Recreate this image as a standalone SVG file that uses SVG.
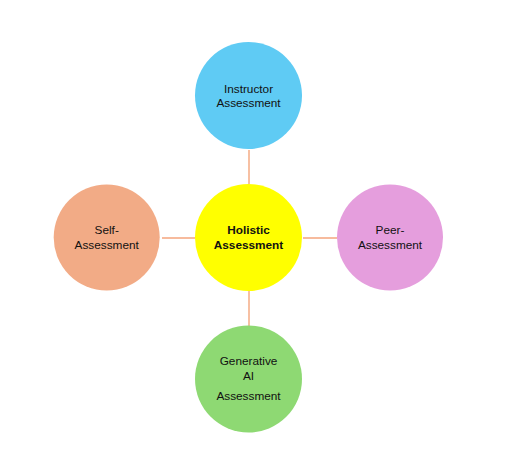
<svg xmlns="http://www.w3.org/2000/svg" width="520" height="454" viewBox="0 0 520 454">
<style>
.c{stroke:none}
.t{font-family:"Liberation Sans",Arial,sans-serif;font-size:11.8px;fill:#111;text-anchor:middle}
.b{font-weight:bold}
.l{stroke:#F4A57C;stroke-width:1.4;fill:none}
</style>
<rect width="520" height="454" fill="#fff"/>
<g id="connectors">
<line class="l" x1="249" y1="150" x2="249" y2="184"/>
<line class="l" x1="162" y1="238" x2="195" y2="238"/>
<line class="l" x1="303" y1="238" x2="337" y2="238"/>
<line class="l" x1="249" y1="290" x2="249" y2="326"/>
</g>
<g id="instructor">
<circle class="c" cx="248.5" cy="95.5" r="53.5" fill="#5FCBF4"/>
<text class="t" x="248.5" y="92.5">Instructor</text>
<text class="t" x="248.5" y="107">Assessment</text>
</g>
<g id="holistic">
<circle class="c" cx="248.5" cy="237.5" r="53.5" fill="#FFFF00"/>
<text class="t b" x="248.5" y="234">Holistic</text>
<text class="t b" x="248.5" y="249">Assessment</text>
</g>
<g id="self">
<circle class="c" cx="106.7" cy="237.5" r="53" fill="#F2AB86"/>
<text class="t" x="106.7" y="234">Self-</text>
<text class="t" x="106.7" y="249">Assessment</text>
</g>
<g id="peer">
<circle class="c" cx="390" cy="237.5" r="53" fill="#E59EDD"/>
<text class="t" x="390" y="234">Peer-</text>
<text class="t" x="390" y="249">Assessment</text>
</g>
<g id="generative">
<circle class="c" cx="248.5" cy="379" r="53.5" fill="#8ED973"/>
<text class="t" x="248.5" y="365">Generative</text>
<text class="t" x="248.5" y="380">AI</text>
<text class="t" x="248.5" y="400">Assessment</text>
</g>
</svg>
